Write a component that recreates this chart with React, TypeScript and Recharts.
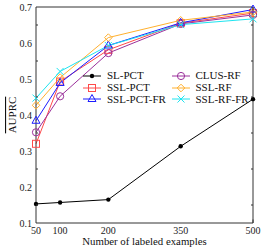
import { Label, Legend, Line, LineChart, XAxis, YAxis } from 'recharts'

// Values.
const SIZES = [50, 100, 200, 350, 500]
const SL_PCT = [0.153, 0.157, 0.165, 0.313, 0.444]
const SSL_PCT = [0.32, 0.493, 0.581, 0.655, 0.683]
const SSL_PCT_FR = [0.384, 0.489, 0.593, 0.656, 0.693]
const CLUS_RF = [0.352, 0.452, 0.572, 0.653, 0.678]
const SSL_RF = [0.427, 0.504, 0.615, 0.663, 0.686]
const SSL_RF_FR = [0.447, 0.521, 0.593, 0.651, 0.667]

const Y_TICKS = [0.1, 0.2, 0.3, 0.4, 0.5, 0.6, 0.7]
const Y_MINOR = [0.15, 0.25, 0.35, 0.45, 0.55, 0.65]

const FONT = '"Liberation Serif", "DejaVu Serif", serif'
const AXIS = '#333'

type Shape = 'dot' | 'square' | 'triangle' | 'circle' | 'diamond' | 'cross'

const SERIES: { key: string; name: string; color: string; shape: Shape; values: number[] }[] = [
  { key: 'sl', name: 'SL-PCT', color: '#000000', shape: 'dot', values: SL_PCT },
  { key: 'sslpct', name: 'SSL-PCT', color: '#ff4a4a', shape: 'square', values: SSL_PCT },
  { key: 'sslpctfr', name: 'SSL-PCT-FR', color: '#1c1cff', shape: 'triangle', values: SSL_PCT_FR },
  { key: 'clus', name: 'CLUS-RF', color: '#9b309b', shape: 'circle', values: CLUS_RF },
  { key: 'sslrf', name: 'SSL-RF', color: '#ffb02e', shape: 'diamond', values: SSL_RF },
  { key: 'sslrffr', name: 'SSL-RF-FR', color: '#1ee4f0', shape: 'cross', values: SSL_RF_FR },
]

const data = SIZES.map((n, i) => {
  const row: Record<string, number> = { n }
  SERIES.forEach((s) => (row[s.key] = s.values[i]))
  return row
})

function Marker({ cx, cy, color, shape }: { cx: number; cy: number; color: string; shape: Shape }) {
  const p = { stroke: color, strokeWidth: 1, fill: 'none' }
  switch (shape) {
    case 'dot':
      return <circle cx={cx} cy={cy} r={2.2} fill={color} />
    case 'square':
      return <rect x={cx - 3.5} y={cy - 3.5} width={7} height={7} {...p} />
    case 'triangle':
      return <polygon points={`${cx},${cy - 4.5} ${cx - 4},${cy + 2.5} ${cx + 4},${cy + 2.5}`} {...p} />
    case 'circle':
      return <circle cx={cx} cy={cy} r={3.6} {...p} />
    case 'diamond':
      return <polygon points={`${cx},${cy - 3.8} ${cx + 3.8},${cy} ${cx},${cy + 3.8} ${cx - 3.8},${cy}`} {...p} />
    default:
      return (
        <g {...p}>
          <line x1={cx - 3.5} y1={cy - 3.5} x2={cx + 3.5} y2={cy + 3.5} />
          <line x1={cx - 3.5} y1={cy + 3.5} x2={cx + 3.5} y2={cy - 3.5} />
        </g>
      )
  }
}

function LegendItem({ name, color, shape }: { name: string; color: string; shape: Shape }) {
  return (
    <div style={{ display: 'flex', alignItems: 'center', height: 11.8 }}>
      <svg width={19} height={10} style={{ overflow: 'visible' }}>
        <line x1={0} y1={5} x2={18} y2={5} stroke={color} strokeWidth={1} />
        <Marker cx={9} cy={5} color={color} shape={shape} />
      </svg>
      <span style={{ marginLeft: 5, fontSize: 11, fontFamily: FONT, color: '#111', lineHeight: '11px' }}>{name}</span>
    </div>
  )
}

function TwoColumnLegend() {
  const cols = [SERIES.slice(0, 3), SERIES.slice(3)]
  return (
    <div style={{ display: 'flex' }}>
      {cols.map((col, ci) => (
        <div key={ci} style={{ width: 88.5 }}>
          {col.map((s) => (
            <LegendItem key={s.key} name={s.name} color={s.color} shape={s.shape} />
          ))}
        </div>
      ))}
    </div>
  )
}

// Inward tick marks, gnuplot style. With tickSize/tickMargin 0 the tick's x/y is the axis line itself.
type Side = 'left' | 'right' | 'top' | 'bottom'
function inwardTick(side: Side, majors: number[]) {
  return (props: any) => {
    const { x, y, payload } = props
    const len = majors.includes(payload.value) ? 3.5 : 2
    const d = { left: [len, 0], right: [-len, 0], top: [0, len], bottom: [0, -len] }[side]
    return <line x1={x} y1={y} x2={x + d[0]} y2={y + d[1]} stroke={AXIS} strokeWidth={1} />
  }
}

const mirrorAxis = { type: 'number' as const, allowDataOverflow: true, mirror: true, tickLine: false, tickSize: 0, tickMargin: 0 }

export default function App() {
  const tickFont = { fontSize: 10, fontFamily: FONT, fill: '#222' }
  return (
    <div style={{ position: 'absolute', left: 0, top: 0, background: '#fff' }}>
      <LineChart width={265} height={249} data={data} margin={{ top: 7, right: 12, left: 0, bottom: 0 }}>
        {/* labelled axes */}
        <XAxis
          xAxisId="main"
          dataKey="n"
          type="number"
          domain={[50, 500]}
          ticks={SIZES}
          tickLine={false}
          tickSize={0}
          tickMargin={4}
          height={26}
          axisLine={{ stroke: AXIS }}
          tick={tickFont}
        >
          <Label value="Number of labeled examples" position="insideBottom" offset={4} style={{ fontSize: 10.8, fontFamily: FONT, fill: '#111' }} />
        </XAxis>
        <YAxis
          yAxisId="main"
          type="number"
          domain={[0.1, 0.7]}
          ticks={Y_TICKS}
          tickFormatter={(v) => Number(v).toFixed(1)}
          tickLine={false}
          tickSize={0}
          tickMargin={4}
          width={36}
          axisLine={{ stroke: AXIS }}
          tick={tickFont}
        >
          <Label
            content={({ viewBox }: any) => {
              const x = viewBox.x + 12
              const y = viewBox.y + viewBox.height / 2
              return (
                <text
                  x={x}
                  y={y}
                  transform={`rotate(-90 ${x} ${y})`}
                  textAnchor="middle"
                  dominantBaseline="central"
                  style={{ fontSize: 11, fontFamily: FONT, fill: '#111', textDecoration: 'overline' }}
                >
                  AUPRC
                </text>
              )
            }}
          />
        </YAxis>

        {/* one mirrored axis per side for the inward ticks; top and right also close the frame */}
        <XAxis xAxisId="bt" {...mirrorAxis} domain={[50, 500]} ticks={SIZES} orientation="bottom" axisLine={false} tick={inwardTick('bottom', SIZES)} />
        <XAxis xAxisId="tp" {...mirrorAxis} domain={[50, 500]} ticks={SIZES} orientation="top" axisLine={{ stroke: AXIS }} tick={inwardTick('top', SIZES)} />
        <YAxis yAxisId="lt" {...mirrorAxis} domain={[0.1, 0.7]} ticks={[...Y_TICKS, ...Y_MINOR]} orientation="left" axisLine={false} tick={inwardTick('left', Y_TICKS)} />
        <YAxis yAxisId="rt" {...mirrorAxis} domain={[0.1, 0.7]} ticks={[...Y_TICKS, ...Y_MINOR]} orientation="right" axisLine={{ stroke: AXIS }} tick={inwardTick('right', Y_TICKS)} />

        <Legend
          layout="vertical"
          align="center"
          verticalAlign="middle"
          content={() => <TwoColumnLegend />}
          wrapperStyle={{ position: 'absolute', left: 83, top: 70, width: 180, height: 36 }}
        />

        {SERIES.map((s) => (
          <Line
            key={s.key}
            xAxisId="main"
            yAxisId="main"
            dataKey={s.key}
            name={s.name}
            stroke={s.color}
            strokeWidth={1}
            isAnimationActive={false}
            dot={(props: any) => <Marker key={`${s.key}-${props.index}`} cx={props.cx} cy={props.cy} color={s.color} shape={s.shape} />}
            activeDot={false}
          />
        ))}
      </LineChart>
    </div>
  )
}
